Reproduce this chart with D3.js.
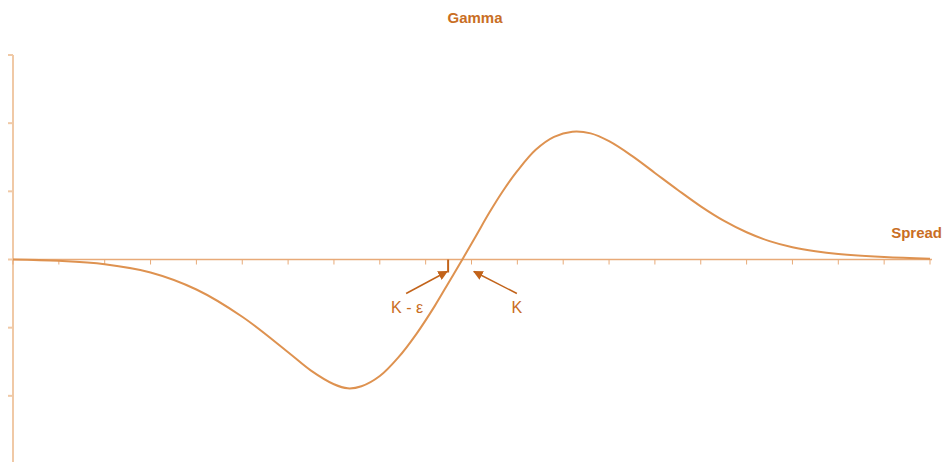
<!DOCTYPE html>
<html>
<head>
<meta charset="utf-8">
<script src="https://cdn.jsdelivr.net/npm/d3@7"></script>
<style>
  body { margin: 0; background: #fff; }
  text { font-family: "Liberation Sans", Arial, sans-serif; }
</style>
</head>
<body>
<div id="chart"></div>
<script>
// Spread (in x-tick units) and gamma values
const spread = [0, 1, 2, 3, 4, 5, 6, 6.5, 7, 7.3, 7.6, 8, 8.4, 8.8, 9.2, 9.5, 9.8,
  10.1, 10.4, 10.7, 11, 11.4, 11.8, 12.2, 12.6, 13, 13.5, 14, 14.5, 15, 15.5, 16, 16.5,
  17, 17.5, 18, 19, 20];
const gamma = [0, -0.02, -0.07, -0.19, -0.44, -0.84, -1.36, -1.63, -1.83, -1.89, -1.86,
  -1.71, -1.44, -1.09, -0.68, -0.34, 0.0, 0.35, 0.70, 1.02, 1.30, 1.61, 1.80, 1.875, 1.85,
  1.735, 1.52, 1.27, 1.02, 0.78, 0.57, 0.40, 0.27, 0.18, 0.12, 0.08, 0.035, 0.01];
const xTicks = d3.range(0, 21);
const yTicks = [-3, -2, -1, 0, 1, 2, 3];

// K - epsilon and K markers on the spread axis
const kEps = 9.49;
const kVal = 10.03;

const width = 944, height = 462;
const curveColor = "#de9250";
const axisColor = "#f0c9a6";
const xAxisColor = "#e8aa78";
const textColor = "#c96e24";
const arrowColor = "#c2631a";

const svg = d3.select("#chart")
  .append("svg")
  .attr("width", width)
  .attr("height", height);

const x = d3.scaleLinear().domain([0, 20]).range([13, 930]);
const y = d3.scaleLinear().domain([-3, 3]).range([464, 55]);

// Y axis
svg.append("line")
  .attr("x1", x(0)).attr("x2", x(0))
  .attr("y1", y(3)).attr("y2", height)
  .attr("stroke", axisColor)
  .attr("stroke-width", 2);

svg.selectAll("line.ytick")
  .data(yTicks)
  .enter()
  .append("line")
  .attr("class", "ytick")
  .attr("x1", x(0) - 5).attr("x2", x(0))
  .attr("y1", d => y(d)).attr("y2", d => y(d))
  .attr("stroke", axisColor)
  .attr("stroke-width", 2);

// X axis
svg.append("line")
  .attr("x1", x(0)).attr("x2", x(20) + 2)
  .attr("y1", y(0)).attr("y2", y(0))
  .attr("stroke", xAxisColor)
  .attr("stroke-width", 1.5);

svg.selectAll("line.xtick")
  .data(xTicks)
  .enter()
  .append("line")
  .attr("class", "xtick")
  .attr("x1", d => x(d)).attr("x2", d => x(d))
  .attr("y1", y(0)).attr("y2", y(0) + 5)
  .attr("stroke", xAxisColor)
  .attr("stroke-width", 1);

// Gamma curve
const line = d3.line()
  .x((d, i) => x(spread[i]))
  .y(d => y(d))
  .curve(d3.curveCatmullRom.alpha(0.5));

svg.append("path")
  .datum(gamma)
  .attr("d", line)
  .attr("fill", "none")
  .attr("stroke", curveColor)
  .attr("stroke-width", 2);

// K - eps marker
svg.append("line")
  .attr("x1", x(kEps)).attr("x2", x(kEps))
  .attr("y1", y(0)).attr("y2", y(0) + 13)
  .attr("stroke", arrowColor)
  .attr("stroke-width", 2);

// Arrows
svg.append("defs").append("marker")
  .attr("id", "arrow")
  .attr("viewBox", "0 0 10 10")
  .attr("refX", 9).attr("refY", 5)
  .attr("markerWidth", 6.5).attr("markerHeight", 6.5)
  .attr("orient", "auto")
  .attr("markerUnits", "strokeWidth")
  .append("path")
  .attr("d", "M0,0 L10,5 L0,10 Z")
  .attr("fill", arrowColor);

const arrows = [
  { x1: x(kEps) - 42, y1: y(0) + 34, x2: x(kEps) - 1, y2: y(0) + 12 },
  { x1: x(kVal) + 44, y1: y(0) + 34, x2: x(kVal) + 1, y2: y(0) + 12 }
];
svg.selectAll("line.arrow")
  .data(arrows)
  .enter()
  .append("line")
  .attr("class", "arrow")
  .attr("x1", d => d.x1).attr("y1", d => d.y1)
  .attr("x2", d => d.x2).attr("y2", d => d.y2)
  .attr("stroke", arrowColor)
  .attr("stroke-width", 1.5)
  .attr("marker-end", "url(#arrow)");

// Labels
svg.append("text")
  .attr("x", x(kEps) - 41)
  .attr("y", y(0) + 53)
  .attr("text-anchor", "middle")
  .attr("font-size", 16)
  .attr("fill", textColor)
  .text("K - ε");

svg.append("text")
  .attr("x", x(kVal) + 44)
  .attr("y", y(0) + 53)
  .attr("text-anchor", "middle")
  .attr("font-size", 16)
  .attr("fill", textColor)
  .text("K");

svg.append("text")
  .attr("x", 475)
  .attr("y", 23)
  .attr("text-anchor", "middle")
  .attr("font-size", 15)
  .attr("font-weight", "bold")
  .attr("fill", textColor)
  .text("Gamma");

svg.append("text")
  .attr("x", 942)
  .attr("y", 238)
  .attr("text-anchor", "end")
  .attr("font-size", 15)
  .attr("font-weight", "bold")
  .attr("fill", textColor)
  .text("Spread");
</script>
</body>
</html>
